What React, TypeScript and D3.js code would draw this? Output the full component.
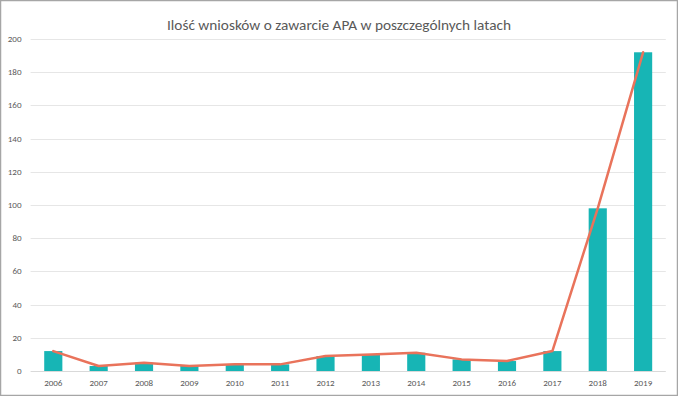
import React from "react";
import * as d3 from "d3";

const years = ["2006","2007","2008","2009","2010","2011","2012","2013","2014","2015","2016","2017","2018","2019"];
const counts = [12, 3, 5, 3, 4, 4, 9, 10, 11, 7, 6, 12, 98, 192];
const yTicks = [0, 20, 40, 60, 80, 100, 120, 140, 160, 180, 200];
const title = "Ilość wniosków o zawarcie APA w poszczególnych latach";

const W = 678, H = 396;
const plotLeft = 30.6, plotRight = 665.8, plotTop = 39, plotBottom = 371;
const font = "Carlito, 'Liberation Sans Narrow', 'Open Sans', sans-serif";

export default function App() {
  const x = d3.scaleBand<string>().domain(years).range([plotLeft, plotRight]).paddingInner(0.6).paddingOuter(0.3);
  const y = d3.scaleLinear().domain([0, 200]).range([plotBottom, plotTop]);
  const line = d3.line<number>()
    .x((_, i) => (x(years[i]) as number) + x.bandwidth() / 2)
    .y((d) => y(d));

  return (
    <svg width={W} height={H} style={{ position: "absolute", left: 0, top: 0, display: "block", background: "#fff" }}>
      <rect x={0.5} y={0.5} width={W - 1} height={H - 1} fill="#fff" stroke="#a6a6a6" strokeWidth={1.5} />
      <text x={339} y={30} textAnchor="middle" fontFamily={font} fontSize={14.5} fill="#595959" textLength={344} lengthAdjust="spacingAndGlyphs">{title}</text>
      {yTicks.map((t) => (
        <g key={t}>
          <line x1={plotLeft} x2={plotRight} y1={Math.round(y(t)) + 0.5} y2={Math.round(y(t)) + 0.5} stroke={t === 0 ? "#d9d9d9" : "#e6e6e6"} strokeWidth={1} />
          <text x={21.5} y={y(t) + 3} textAnchor="end" fontFamily={font} fontSize={9} fill="#595959">{t}</text>
        </g>
      ))}
      {counts.map((c, i) => (
        <rect key={years[i]} x={x(years[i]) as number} y={y(c)} width={x.bandwidth()} height={plotBottom - y(c)} fill="#17b5b5" />
      ))}
      <path d={line(counts) as string} fill="none" stroke="#e9735b" strokeWidth={2.5} strokeLinejoin="round" strokeLinecap="round" />
      {years.map((yr) => (
        <text key={yr} x={(x(yr) as number) + x.bandwidth() / 2} y={386} textAnchor="middle" fontFamily={font} fontSize={9} fill="#595959">{yr}</text>
      ))}
    </svg>
  );
}
